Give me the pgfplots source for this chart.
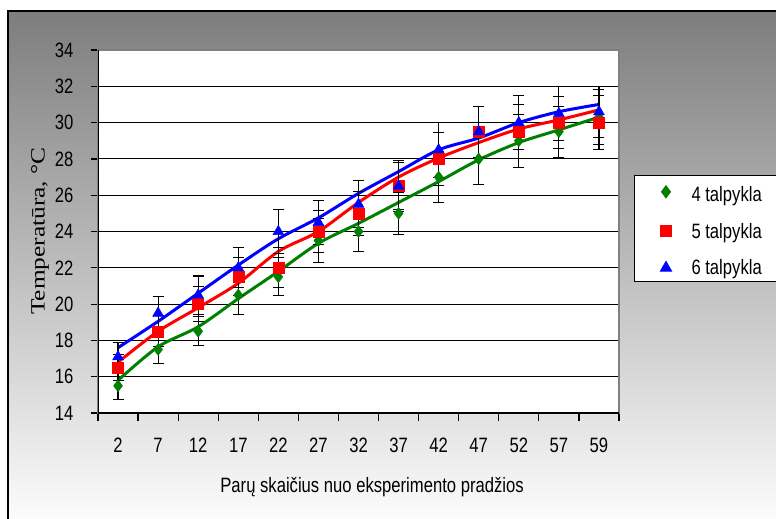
\documentclass[border=0pt]{standalone}
\usepackage{pgfplots}
\pgfplotsset{compat=1.18}
\usepackage{fontspec}
\setmainfont{Liberation Sans}
\newfontfamily\sansS[FakeStretch=0.8]{Liberation Sans}
\newfontfamily\serifS[FakeStretch=1.25]{Liberation Serif}
\definecolor{mygreen}{RGB}{0,128,0}
\definecolor{myred}{RGB}{255,0,0}
\definecolor{myblue}{RGB}{0,0,255}
\definecolor{bgtop}{RGB}{125,125,125}
\begin{document}
\begin{tikzpicture}
\useasboundingbox (0pt,0pt) rectangle (776pt,-519pt);
\shade[top color=bgtop, bottom color=white] (8pt,-11pt) rectangle (790pt,-530pt);
\draw[black, line width=1.5pt] (8pt,-530pt) -- (8pt,-11pt) -- (790pt,-11pt);
\begin{axis}[
  at={(98pt,-413pt)}, anchor=south west,
  scale only axis, width=521pt, height=363pt,
  xmin=-0.5, xmax=12.5, ymin=14, ymax=34,
  axis background/.style={fill=white},
  axis line style={draw=gray, line width=1.2pt},
  ytick={14,16,...,34},
  xtick={-0.5,0.5,...,12.5}, xticklabels={},
  extra x ticks={0,1,2,3,4,5,6,7,8,9,10,11,12},
  extra x tick labels={2,7,12,17,22,27,32,37,42,47,52,57,59},
  extra x tick style={major tick length=0pt, grid=none},
  xtick pos=bottom, ytick pos=left,
  tick align=outside, major tick length=7.5pt,
  tick style={black, line width=1.2pt},
  ymajorgrids, major grid style={black, line width=1.1pt},
  /pgf/number format/assume math mode=true,
  tick label style={font=\sansS\fontsize{20.8}{20.8}\selectfont},
  yticklabel style={inner sep=0pt, xshift=-17pt},
  xticklabel style={inner sep=0pt, yshift=-25pt},
  ylabel={\serifS\fontsize{20.3}{20.3}\selectfont Temperatūra, °C},
  ylabel style={at={(axis description cs:-0.1113,0.501)}, anchor=center},
  xlabel={\sansS\fontsize{20.8}{20.8}\selectfont Parų skaičius nuo eksperimento pradžios},
  xlabel style={at={(axis description cs:0.526,-0.204)}, anchor=center},
  legend style={at={(axis description cs:1.0288,0.6556)}, anchor=north west,
    draw=black, fill=white, line width=1pt, font=\sansS\fontsize{20.8}{20.8}\selectfont,
    legend cell align=left, inner xsep=26pt, inner ysep=3pt, row sep=16pt},
  error bars/y dir=both, error bars/y explicit,
  error bars/error bar style={black, line width=1.1pt},
  error bars/error mark options={rotate=90, black, mark size=5.5pt, line width=1.1pt},
]
% trend lines
\addplot[mygreen, line width=3pt, smooth, forget plot, no markers, error bars/y dir=none] coordinates {
(0,15.8) (1,17.65) (2,18.75) (3,20.3) (4,21.8) (5,23.35) (6,24.45) (7,25.6) (8,26.75) (9,27.95) (10,28.9) (11,29.6) (12,30.3)};
\addplot[myred, line width=3pt, smooth, forget plot, no markers, error bars/y dir=none] coordinates {
(0,16.8) (1,18.5) (2,19.8) (3,21.15) (4,22.9) (5,24.0) (6,25.6) (7,27.0) (8,28.05) (9,28.9) (10,29.65) (11,30.15) (12,30.7)};
\addplot[myblue, line width=3pt, smooth, forget plot, no markers, error bars/y dir=none] coordinates {
(0,17.6) (1,19.05) (2,20.6) (3,22.15) (4,23.6) (5,24.75) (6,26.1) (7,27.3) (8,28.5) (9,29.15) (10,30.0) (11,30.6) (12,31.0)};
% data points
\addplot[only marks, mark=diamond*, mark size=6pt, mark options={draw=mygreen, fill=mygreen}] coordinates {
(0,15.5) +- (0,0.75) (1,17.5) +- (0,0.75) (2,18.5) +- (0,0.8) (3,20.5) +- (0,1.05) (4,21.5) +- (0,1.05)
(5,23.5) +- (0,1.2) (6,24.0) +- (0,1.1) (7,25.0) +- (0,1.15) (8,27.0) +- (0,1.4) (9,28.0) +- (0,1.4)
(10,29.0) +- (0,1.45) (11,29.5) +- (0,1.4) (12,30.3) +- (0,1.5)};
\addlegendentry{\rule{0pt}{21pt}\hspace{18pt}4 talpykla}
\addplot[only marks, mark=square*, mark size=5.5pt, mark options={draw=myred, fill=myred}] coordinates {
(0,16.5) +- (0,0.7) (1,18.5) +- (0,0.85) (2,20.0) +- (0,0.95) (3,21.5) +- (0,1.05) (4,22.0) +- (0,1.1)
(5,24.0) +- (0,1.15) (6,25.0) +- (0,1.2) (7,26.5) +- (0,1.3) (8,28.0) +- (0,1.45) (9,29.5) +- (0,1.4)
(10,29.5) +- (0,1.5) (11,30.0) +- (0,1.45) (12,30.0) +- (0,1.5)};
\addlegendentry{\hspace{18pt}5 talpykla}
\addplot[only marks, mark=triangle*, mark size=6.3pt, mark options={draw=myblue, fill=myblue}] coordinates {
(0,17.1) +- (0,0.8) (1,19.5) +- (0,0.9) (2,20.5) +- (0,1.05) (3,22.0) +- (0,1.1) (4,24.0) +- (0,1.2)
(5,24.5) +- (0,1.2) (6,25.5) +- (0,1.3) (7,26.5) +- (0,1.4) (8,28.5) +- (0,1.5) (9,29.5) +- (0,1.4)
(10,30.0) +- (0,1.5) (11,30.5) +- (0,1.5) (12,30.6) +- (0,1.4)};
\addlegendentry{\hspace{18pt}6 talpykla}
\draw[black, line width=1.2pt] (rel axis cs:0,1) -- (rel axis cs:0,0) -- (rel axis cs:1,0);
\end{axis}
\end{tikzpicture}
\end{document}
